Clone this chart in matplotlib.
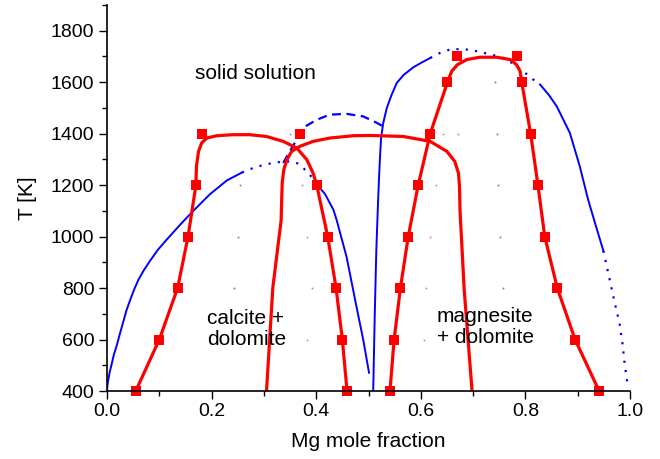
import numpy as np
import matplotlib.pyplot as plt
from matplotlib.ticker import MultipleLocator, FormatStrFormatter

plt.rcParams['font.family'] = ['Liberation Sans', 'DejaVu Sans']

# measured miscibility gaps (red squares)
calc_left_x = [0.055, 0.100, 0.135, 0.155, 0.170, 0.181]
calc_left_T = [400, 600, 800, 1000, 1200, 1400]
calc_right_x = [0.369, 0.401, 0.422, 0.438, 0.450, 0.459]
calc_right_T = [1400, 1200, 1000, 800, 600, 400]
magn_left_x = [0.541, 0.549, 0.561, 0.576, 0.595, 0.618, 0.651, 0.670]
magn_left_T = [400, 600, 800, 1000, 1200, 1400, 1600, 1700]
magn_right_x = [0.783, 0.793, 0.810, 0.824, 0.837, 0.861, 0.895, 0.941]
magn_right_T = [1700, 1600, 1400, 1200, 1000, 800, 600, 400]

# fitted boundaries (red lines)
fit_calc_x = [0.055, 0.100, 0.135, 0.155, 0.170, 0.171, 0.175, 0.181, 0.191, 0.210, 0.241,
              0.273, 0.305, 0.337, 0.363, 0.382, 0.394, 0.401, 0.422, 0.438, 0.450, 0.459]
fit_calc_T = [400, 600, 800, 1000, 1200, 1273, 1331, 1364, 1383, 1392, 1396,
              1396, 1389, 1370, 1344, 1299, 1247, 1200, 1000, 800, 600, 400]
fit_dolo_x = [0.305, 0.317, 0.333, 0.334, 0.335, 0.338, 0.344, 0.353, 0.369, 0.394, 0.426,
              0.471, 0.503, 0.567, 0.618, 0.650, 0.665, 0.672, 0.674, 0.675, 0.683, 0.698]
fit_dolo_T = [400, 800, 1065, 1143, 1208, 1260, 1299, 1331, 1351, 1370, 1383,
              1392, 1393, 1389, 1370, 1331, 1292, 1247, 1195, 1100, 793, 400]
fit_magn_x = [0.541, 0.549, 0.561, 0.576, 0.595, 0.618, 0.651, 0.659, 0.670, 0.688, 0.713,
              0.745, 0.771, 0.783, 0.790, 0.793, 0.810, 0.824, 0.837, 0.861, 0.895, 0.941]
fit_magn_T = [400, 600, 800, 1000, 1200, 1400, 1600, 1642, 1668, 1688, 1697,
              1697, 1688, 1668, 1642, 1600, 1400, 1200, 1000, 800, 600, 400]

# calculated solvus (blue), stable parts solid, metastable parts dotted
solv1_x = [0.000, 0.001, 0.003, 0.005, 0.009, 0.013, 0.019, 0.025, 0.031, 0.037, 0.044,
           0.052, 0.060, 0.070, 0.082, 0.097, 0.114, 0.143, 0.165, 0.197, 0.229, 0.258]
solv1_T = [400, 425, 450, 472, 505, 540, 580, 625, 668, 712, 752,
           795, 832, 868, 905, 948, 988, 1053, 1100, 1165, 1218, 1249]
solv1_meta_x = [0.258, 0.273, 0.295, 0.312, 0.331, 0.345, 0.355, 0.365, 0.372, 0.385, 0.398, 0.410]
solv1_meta_T = [1249, 1262, 1276, 1284, 1290, 1292, 1291, 1284, 1273, 1247, 1215, 1182]
solv2_x = [0.410, 0.417, 0.433, 0.439, 0.458, 0.477, 0.490, 0.501]
solv2_T = [1182, 1165, 1104, 1065, 922, 728, 598, 471]
spin_x = [0.337, 0.344, 0.359, 0.379, 0.401, 0.426, 0.458, 0.490, 0.516, 0.528]
spin_T = [1286, 1312, 1364, 1428, 1454, 1474, 1477, 1467, 1442, 1428]
solv3_x = [0.509, 0.512, 0.515, 0.518, 0.520, 0.522, 0.524, 0.528, 0.535, 0.544, 0.554, 0.567,
           0.585, 0.603, 0.618]
solv3_T = [400, 700, 950, 1120, 1220, 1310, 1380, 1440, 1500, 1550, 1597, 1628,
           1657, 1678, 1694]
solv3_meta_x = [0.618, 0.637, 0.656, 0.676, 0.697, 0.716, 0.736, 0.758, 0.777, 0.796, 0.815, 0.828]
solv3_meta_T = [1694, 1714, 1727, 1729, 1725, 1716, 1707, 1694, 1672, 1642, 1610, 1591]
solv4_x = [0.828, 0.845, 0.860, 0.885, 0.904, 0.920, 0.935, 0.949]
solv4_T = [1591, 1550, 1506, 1403, 1273, 1143, 1040, 945]
solv4_meta_x = [0.949, 0.962, 0.971, 0.980, 0.986, 0.990, 0.996]
solv4_meta_T = [945, 825, 741, 663, 579, 501, 417]

# small sample points
grey_x = [0.243, 0.250, 0.254, 0.258, 0.758, 0.751, 0.748, 0.745, 0.742]
grey_T = [800, 1000, 1200, 1400, 800, 1000, 1200, 1400, 1600]
pink_x = [0.383, 0.392, 0.383, 0.372, 0.350, 0.607, 0.610, 0.618, 0.630, 0.642, 0.672]
pink_T = [600, 800, 1000, 1200, 1400, 600, 800, 1000, 1200, 1400, 1400]

fig = plt.figure(figsize=(6.6, 4.59), dpi=100)
ax = fig.add_axes([107 / 660, 68 / 459, 523 / 660, 386 / 459])

blue = '#0000ff'
red = '#ff0000'
dots = (0, (1, 3.2))
dashes = (0, (4, 2.5))

ax.plot(solv1_x, solv1_T, color=blue, lw=1.4)
ax.plot(solv1_meta_x, solv1_meta_T, color=blue, lw=1.6, ls=dots)
ax.plot(solv2_x, solv2_T, color=blue, lw=1.4)
ax.plot(spin_x, spin_T, color=blue, lw=1.6, ls=dashes)
ax.plot(solv3_x, solv3_T, color=blue, lw=1.4)
ax.plot(solv3_meta_x, solv3_meta_T, color=blue, lw=1.6, ls=dots)
ax.plot(solv4_x, solv4_T, color=blue, lw=1.4)
ax.plot(solv4_meta_x, solv4_meta_T, color=blue, lw=1.6, ls=dots)

ax.plot(grey_x, grey_T, 's', color='#777777', ms=1.2, mew=0)
ax.plot(pink_x, pink_T, 's', color='#ff7070', ms=1.2, mew=0)

for fx, fT in [(fit_calc_x, fit_calc_T), (fit_dolo_x, fit_dolo_T), (fit_magn_x, fit_magn_T)]:
    ax.plot(fx, fT, color=red, lw=2.3, solid_joinstyle='round')

for mx, mT in [(calc_left_x, calc_left_T), (calc_right_x, calc_right_T),
               (magn_left_x, magn_left_T), (magn_right_x, magn_right_T)]:
    ax.plot(mx, mT, 's', color=red, ms=7.5, mew=0, clip_on=False)

ax.text(0.283, 1633, 'solid solution', fontsize=15, ha='center', va='center')
ax.text(0.191, 640, 'calcite +\ndolomite', fontsize=15, ha='left', va='center', linespacing=1.15)
ax.text(0.631, 650, 'magnesite\n+ dolomite', fontsize=15, ha='left', va='center', linespacing=1.15)

ax.set_xlim(0, 1)
ax.set_ylim(400, 1900)
ax.xaxis.set_major_locator(MultipleLocator(0.2))
ax.xaxis.set_minor_locator(MultipleLocator(0.1))
ax.xaxis.set_major_formatter(FormatStrFormatter('%.1f'))
ax.set_yticks(np.arange(400, 1801, 200))
ax.yaxis.set_minor_locator(MultipleLocator(100))

ax.spines['top'].set_visible(False)
ax.spines['right'].set_visible(False)
ax.spines['left'].set_linewidth(1.2)
ax.spines['bottom'].set_linewidth(1.2)
ax.tick_params(which='major', direction='out', length=6, width=1, pad=3, labelsize=14)
ax.tick_params(which='minor', direction='out', length=3.5, width=1)

ax.set_xlabel('Mg mole fraction', fontsize=15, labelpad=8)
ax.set_ylabel('T [K]', fontsize=15, labelpad=10)

fig.savefig('out.png', dpi=100)
